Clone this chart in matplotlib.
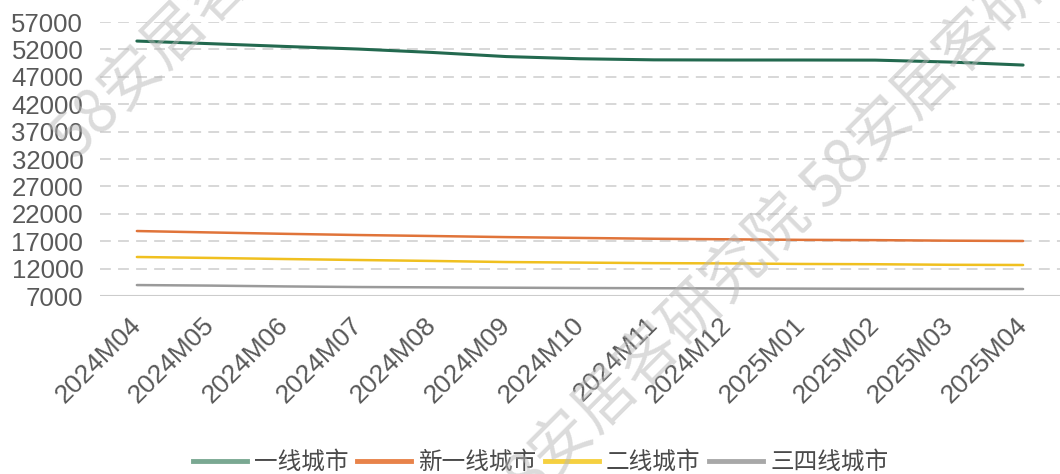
import numpy as np
import matplotlib.pyplot as plt
from matplotlib.lines import Line2D

plt.rcParams['font.family'] = ['Liberation Sans', 'Noto Sans CJK SC', 'DejaVu Sans']

months = ['2024M04', '2024M05', '2024M06', '2024M07', '2024M08', '2024M09', '2024M10',
          '2024M11', '2024M12', '2025M01', '2025M02', '2025M03', '2025M04']
tier1 = [53530, 53050, 52550, 52070, 51450, 50700, 50300, 50100, 50070, 50070, 50050, 49700, 49150]
new_tier1 = [18860, 18600, 18350, 18130, 17950, 17750, 17600, 17450, 17350, 17250, 17200, 17100, 17040]
tier2 = [14120, 13950, 13750, 13570, 13400, 13200, 13100, 13000, 12950, 12850, 12800, 12700, 12660]
tier34 = [9000, 8900, 8750, 8640, 8580, 8520, 8460, 8420, 8380, 8350, 8320, 8300, 8280]
names = ['一线城市', '新一线城市', '二线城市', '三四线城市']
yticks = np.arange(7000, 57001, 5000)

line_cols = ['#23694f', '#e0743a', '#f0c020', '#9a9a9a']
legend_cols = ['#7aa892', '#e8834a', '#f5d040', '#a8a8a8']
widths = [2.2, 1.8, 1.8, 1.8]

fig = plt.figure(figsize=(10.6, 4.74), dpi=100)
ax = fig.add_axes([0.0943, 0.3755, 0.9057, 0.578])

x = np.arange(len(months))
for s, c, w in zip([tier1, new_tier1, tier2, tier34], line_cols, widths):
    ax.plot(x, s, color=c, lw=w, solid_capstyle='round', zorder=3)

ax.set_xlim(-0.5, len(months) - 0.5)
ax.set_ylim(7000, 57000)
ax.set_yticks(yticks)
ax.set_yticklabels([str(v) for v in yticks])
for v in yticks[1:]:
    ax.axhline(v, color='#d4d4d4', lw=1.3, dashes=(6, 4), zorder=1)
ax.axhline(7000, color='#cccccc', lw=1.5, zorder=2)

for sp in ax.spines.values():
    sp.set_visible(False)
ax.tick_params(axis='both', length=0, colors='#595959')
ax.tick_params(axis='y', labelsize=18.5, pad=12)
ax.tick_params(axis='x', labelsize=19, pad=18)
ax.set_xticks(x)
ax.set_xticklabels(months, rotation=45, ha='right', va='center', rotation_mode='anchor')

handles = [Line2D([0], [0], color=c, lw=3.5) for c in legend_cols]
fig.legend(handles, names, loc='center', bbox_to_anchor=(0.51, 0.024), ncol=4, frameon=False,
           fontsize=17, handlelength=2.3, handletextpad=0.3, columnspacing=0.35,
           labelcolor='#4a4a4a')

# watermark
wm = '58安居客研究院'
for px, py in [(62, 148), (493, 512), (812, 198)]:
    fig.text(px / 1060, 1 - py / 474, wm, rotation=45, rotation_mode='anchor',
             ha='left', va='center', fontsize=44, color='#b8b8b8', alpha=0.5,
             family=['Noto Sans CJK SC'], zorder=10)

fig.savefig('out.png', dpi=100)
